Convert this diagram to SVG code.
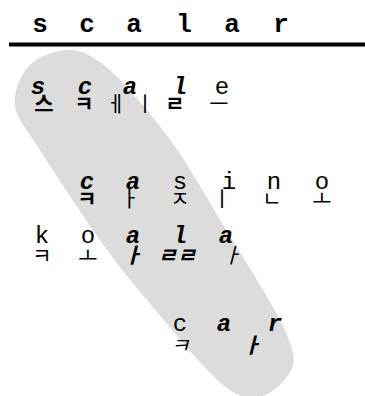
<svg xmlns="http://www.w3.org/2000/svg" width="365" height="396" viewBox="0 0 365 396">
<style>
.t{font-family:"Liberation Mono","Courier New",monospace;font-size:26px;font-weight:bold;text-anchor:middle;fill:#000}
.e{font-family:"Liberation Mono","Courier New",monospace;font-size:24px;text-anchor:middle;fill:#000}
.b{font-weight:bold;font-style:italic}
.k{font-family:"Noto Sans CJK KR",sans-serif;font-size:21px;text-anchor:middle;fill:#000}
.kb{font-weight:bold}
.ki{font-style:italic}
</style>
<rect width="365" height="396" fill="#fff"/>
<path d="M70,50 C82.5,50.2 92.5,56.3 105,66 C117.5,75.7 132.2,92.8 145,108 C157.8,123.2 168.7,137 182,157 C195.3,177 211.5,205.8 225,228 C238.5,250.2 252.7,272.2 263,290 C273.3,307.8 282.2,322 287,335 C291.8,348 296.2,357.8 292,368 C287.8,378.2 273.7,393.3 262,396 C250.3,398.7 241.2,400 222,384 C202.8,368 167.3,324 147,300 C126.7,276 117.8,265 100,240 C82.2,215 54.2,172.5 40,150 C25.8,127.5 16.7,119.2 15,105 C13.3,90.8 20.8,74.2 30,65 C39.2,55.8 57.5,49.8 70,50 Z" fill="#dcdcdc"/>
<g id="title">
<text class="t" x="40" y="32">s</text><text class="t" x="87" y="32">c</text><text class="t" x="134" y="32">a</text><text class="t" x="184" y="32">l</text><text class="t" x="232" y="32">a</text><text class="t" x="281" y="32">r</text>
<line x1="9" y1="44.5" x2="365" y2="44.5" stroke="#000" stroke-width="4"/>
</g>
<g id="scale">
<text class="e b" x="38" y="94">s</text><text class="e b" x="85" y="94">c</text><text class="e b" x="130" y="94">a</text><text class="e b" x="180" y="94">l</text><text class="e" x="222" y="94">e</text>
<text class="k kb" x="44" y="111">스</text><text class="k kb" x="84" y="111">ㅋ</text><text class="k" x="116" y="111">ㅔ</text><text class="k" x="145" y="111">ㅣ</text><text class="k kb" x="175" y="111">ㄹ</text><text class="k" x="219" y="111">ㅡ</text>
</g>
<g id="casino">
<text class="e b" x="87" y="189">c</text><text class="e b" x="133" y="189">a</text><text class="e" x="180" y="189">s</text><text class="e" x="229" y="189">i</text><text class="e" x="274" y="189">n</text><text class="e" x="322" y="189">o</text>
<text class="k kb" x="87" y="206">ㅋ</text><text class="k" x="130" y="206">ㅏ</text><text class="k" x="180" y="206">ㅈ</text><text class="k" x="222" y="206">ㅣ</text><text class="k" x="272" y="206">ㄴ</text><text class="k" x="322" y="206">ㅗ</text>
</g>
<g id="koala">
<text class="e" x="42" y="243">k</text><text class="e" x="88" y="243">o</text><text class="e b" x="133" y="243">a</text><text class="e b" x="180" y="243">l</text><text class="e b" x="226" y="243">a</text>
<text class="k" x="42" y="263">ㅋ</text><text class="k" x="88" y="263">ㅗ</text><text class="k kb ki" x="133" y="263">ㅏ</text><text class="k kb ki" x="177" y="263">ㄹㄹ</text><text class="k ki" x="232" y="263">ㅏ</text>
</g>
<g id="car">
<text class="e" x="180" y="331">c</text><text class="e b" x="224" y="331">a</text><text class="e b" x="275" y="331">r</text>
<text class="k ki" x="180" y="353">ㅋ</text><text class="k kb ki" x="252" y="353">ㅏ</text>
</g>
</svg>
